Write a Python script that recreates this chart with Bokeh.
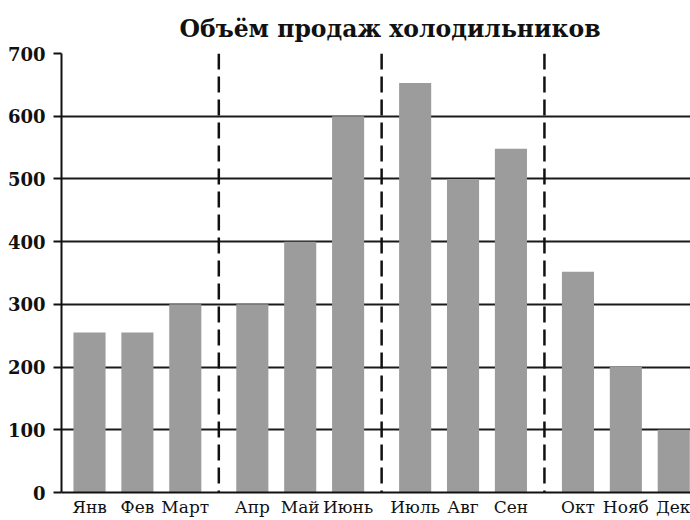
from bokeh.plotting import figure
from bokeh.models import Span, FixedTicker, Range1d, ColumnDataSource
from bokeh.embed import file_html
from bokeh.resources import INLINE

months = ["Янв", "Фев", "Март", "Апр", "Май", "Июнь",
          "Июль", "Авг", "Сен", "Окт", "Нояб", "Дек"]
sales = [255, 255, 300, 300, 400, 600, 653, 500, 548, 352, 200, 100]
quarters = [0, 0, 0, 1, 1, 1, 2, 2, 2, 3, 3, 3]
y_ticks = [0, 100, 200, 300, 400, 500, 600, 700]

GAP = 0.4  # extra spacing between quarters (layout)
xpos = [i + q * GAP for i, q in enumerate(quarters)]
dividers = [(xpos[i] + xpos[i + 1]) / 2 for i in range(len(xpos) - 1)
            if quarters[i] != quarters[i + 1]]

p = figure(width=690, height=520, output_backend="svg", toolbar_location=None,
           x_range=Range1d(-0.585, 12.55), y_range=Range1d(0, 700),
           min_border_left=61, min_border_right=0, min_border_top=53,
           min_border_bottom=28, title="Объём продаж холодильников")

p.title.text_font = "DejaVu Serif"
p.title.text_font_style = "bold"
p.title.text_font_size = "23.5px"
p.title.align = "left"
p.title.offset = 118
p.title.standoff = 22
p.title.text_color = "#111111"

src = ColumnDataSource(dict(x=xpos, top=sales))
p.vbar(x="x", top="top", width=0.67, bottom=0, source=src,
       fill_color="#9c9c9c", line_color=None)

for d in dividers:
    p.add_layout(Span(location=d, dimension="height", line_color="#111111",
                      line_width=2.5, line_dash="16 7"))

p.outline_line_color = None
p.background_fill_color = "white"
p.border_fill_color = "white"

p.xgrid.grid_line_color = None
p.ygrid.grid_line_color = "#1a1a1a"
p.ygrid.grid_line_width = 1.8
p.ygrid.ticker = FixedTicker(ticks=y_ticks)

p.yaxis.ticker = FixedTicker(ticks=y_ticks)
p.yaxis.axis_line_width = 2
p.yaxis.axis_line_color = "#111111"
p.yaxis.major_tick_out = 8
p.yaxis.major_tick_in = 0
p.yaxis.major_tick_line_width = 1.8
p.yaxis.major_tick_line_color = "#111111"
p.yaxis.minor_tick_line_color = None
p.yaxis.major_label_text_font = "DejaVu Serif"
p.yaxis.major_label_text_font_style = "bold"
p.yaxis.major_label_text_font_size = "18px"
p.yaxis.major_label_text_color = "#111111"
p.yaxis.major_label_standoff = 8

p.xaxis.ticker = FixedTicker(ticks=xpos)
p.xaxis.major_label_overrides = {x: m for x, m in zip(xpos, months)}
p.xaxis.axis_line_width = 2
p.xaxis.axis_line_color = "#111111"
p.xaxis.major_tick_line_color = None
p.xaxis.major_tick_out = 0
p.xaxis.major_tick_in = 0
p.xaxis.minor_tick_line_color = None
p.xaxis.major_label_text_font = "DejaVu Serif"
p.xaxis.major_label_text_font_size = "17px"
p.xaxis.major_label_text_color = "#111111"
p.xaxis.major_label_standoff = 4

open("out.html", "w").write(file_html(p, INLINE))
